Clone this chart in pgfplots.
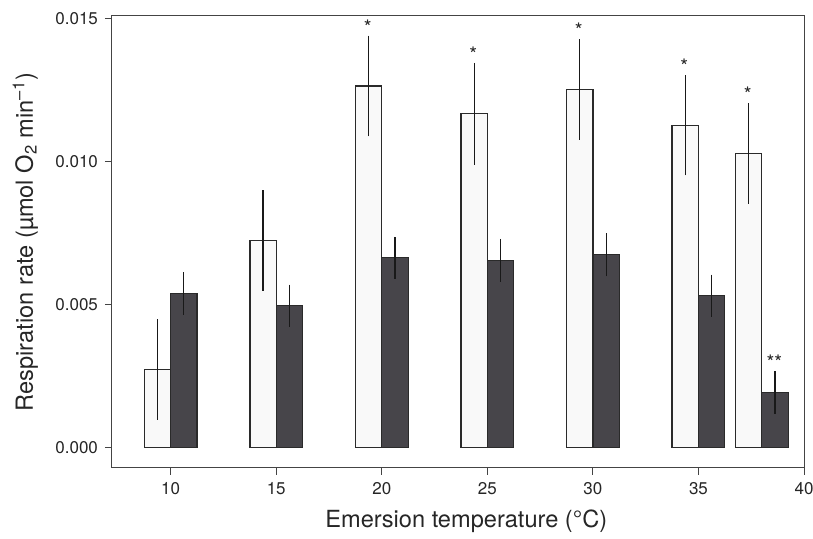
\documentclass[border=0pt]{standalone}
\usepackage{pgfplots}
\usepackage{pgfplotstable}
\pgfplotsset{compat=1.18}
\usepackage{fontspec}
\setmainfont{TeX Gyre Heros}
\definecolor{lightbar}{HTML}{F9F9F9}
\definecolor{darkbar}{HTML}{47454A}
\definecolor{edge}{HTML}{2A2A2A}
\definecolor{axisgray}{HTML}{444444}

% x, light bar, its error, dark bar, its error
\pgfplotstableread{
x     lt       lterr    dk       dkerr
10    0.00272  0.00176  0.00539  0.00074
15    0.00724  0.00176  0.00496  0.00074
20    0.01265  0.00176  0.00664  0.00073
25    0.01168  0.00178  0.00655  0.00075
30    0.01253  0.00176  0.00674  0.00075
35    0.01127  0.00175  0.00531  0.00074
38    0.01029  0.00176  0.00192  0.00074
}\resp

% significance marks, at the top of the error bars
\pgfplotstableread{
x       y        lab
19.33   0.01441  *
24.33   0.01346  *
29.33   0.01429  *
34.33   0.01302  *
37.33   0.01205  *
38.60   0.00266  **
}\stars

\begin{document}
\begin{tikzpicture}
\path[use as bounding box] (-56pt,-35.5pt) rectangle (350.5pt,234pt);
\begin{axis}[
  at={(0,0)}, anchor=south west,
  scale only axis,
  width=346pt, height=226pt,
  xmin=7.22, xmax=40,
  ymin=-0.00072, ymax=0.0151,
  xtick={10,15,...,40},
  ytick={0,0.005,0.010,0.015},
  scaled y ticks=false,
  yticklabel style={/pgf/number format/.cd,fixed,fixed zerofill,precision=3},
  /pgf/number format/assume math mode=true,
  tick label style={font=\fontsize{8.5}{10}\selectfont, text=black!85},
  xtick pos=bottom, ytick pos=left,
  tick align=outside,
  major tick length=3.5pt,
  axis line style={draw=axisgray, line width=0.5pt},
  every tick/.style={draw=axisgray, line width=0.5pt},
  xlabel={Emersion temperature (°C)},
  ylabel={Respiration rate (µmol O\textsubscript{2} min\textsuperscript{–1})},
  label style={font=\fontsize{11.8}{13}\selectfont, text=black!85},
  xlabel style={at={(axis description cs:0.512,-0.1327)}, anchor=base},
  ylabel style={at={(axis description cs:-0.1142,0.5)}, anchor=base},
  clip=false,
  bar width=1.25, bar shift=0,
  every axis plot/.append style={line width=0.65pt},
]
\addplot[ybar, fill=lightbar, draw=edge,
  error bars/.cd, y dir=both, y explicit, error mark=none,
  error bar style={line width=0.55pt, black!90}]
  table[x expr=\thisrow{x}-0.625, y=lt, y error=lterr] {\resp};
\addplot[ybar, fill=darkbar, draw=edge,
  error bars/.cd, y dir=both, y explicit, error mark=none,
  error bar style={line width=0.55pt, black!90}]
  table[x expr=\thisrow{x}+0.625, y=dk, y error=dkerr] {\resp};
\addplot[draw=none, mark=none,
  nodes near coords, point meta=explicit symbolic,
  nodes near coords style={anchor=base, yshift=0.8pt, inner sep=0pt,
    font=\fontsize{10}{11}\selectfont, text=black!85}]
  table[x=x, y=y, meta=lab] {\stars};
\end{axis}
\end{tikzpicture}
\end{document}
